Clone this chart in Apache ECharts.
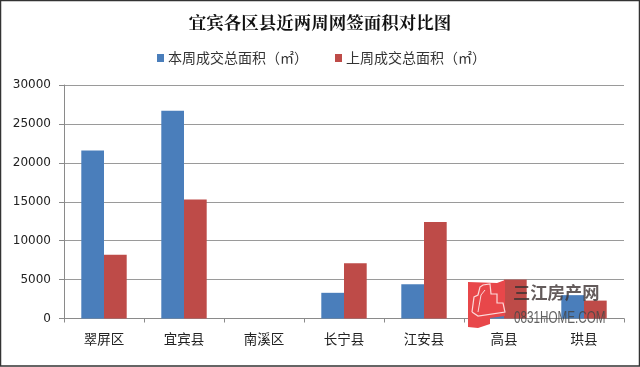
<!DOCTYPE html>
<html><head><meta charset="utf-8">
<style>html,body{margin:0;padding:0;background:#fff}#c{width:640px;height:367px}</style>
<script src="https://cdn.jsdelivr.net/npm/echarts@6/dist/echarts.min.js"></script>
</head><body><div id="c"></div>
<script>
const categories=['翠屏区','宜宾县','南溪区','长宁县','江安县','高县','珙县'];
const thisWeek=[21600,26700,0,3300,4400,3000,3000];
const lastWeek=[8200,15300,0,7100,12400,5000,2300];
const seriesNames=['本周成交总面积（㎡）','上周成交总面积（㎡）'];
const titleText='宜宾各区县近两周网签面积对比图';
const font='"Noto Sans CJK SC"';
const chart=echarts.init(document.getElementById('c'),null,{renderer:'canvas'});
chart.setOption({
 animation:false,backgroundColor:'#fff',
 title:{text:titleText,left:'center',top:9,textStyle:{fontFamily:'"Noto Serif CJK SC","Noto Sans CJK SC"',fontSize:17.5,fontWeight:'bold',color:'#111'}},
 legend:{top:46,left:152,itemWidth:7,itemHeight:8,itemGap:27,icon:'rect',textStyle:{fontFamily:font,fontSize:14,color:'#333',padding:[0,0,0,-1]},data:seriesNames},
 grid:{left:64,top:85,width:560,height:233.5},
 xAxis:{type:'category',data:categories,axisLine:{lineStyle:{color:'#8a8a8a'}},axisTick:{show:true,alignWithLabel:false,length:4,lineStyle:{color:'#8a8a8a'}},axisLabel:{margin:14,fontFamily:font,fontSize:13.5,color:'#222'}},
 yAxis:{type:'value',min:0,max:30000,interval:5000,axisLine:{show:true,lineStyle:{color:'#8a8a8a'}},axisTick:{show:true,length:5,lineStyle:{color:'#8a8a8a'}},splitLine:{lineStyle:{color:'#9a9a9a'}},axisLabel:{margin:13,padding:[4,0,0,0],formatter:v=>String(v),fontFamily:'"DejaVu Sans"',fontSize:12,color:'#222'}},
 series:[
  {name:seriesNames[0],type:'bar',data:thisWeek,barWidth:22.7,barGap:0,itemStyle:{color:'#4a7ebb'}},
  {name:seriesNames[1],type:'bar',data:lastWeek,barWidth:22.7,barGap:0,itemStyle:{color:'#be4b48'}}
 ],
 graphic:[
  {type:'rect',silent:true,z:100,shape:{x:0.5,y:0.5,width:639,height:365.5},style:{fill:'none',stroke:'#333',lineWidth:1.5}},
  {type:'polygon',silent:true,z:100,shape:{points:[[468,282],[497,283],[505,280],[505,316],[490,318],[490,324],[478,328],[468,327]]},style:{fill:'#e8474a'}},
  {type:'polyline',silent:true,z:101,shape:{points:[[472,312],[474,297],[478,295],[480,287],[483,285],[490,284],[491,294],[497,294],[497,303],[503,303],[505,312],[478,316],[472,312]]},style:{fill:'none',stroke:'#fbdada',lineWidth:1.2}},
  {type:'polyline',silent:true,z:101,shape:{points:[[478,312],[481,295],[485,290]]},style:{fill:'none',stroke:'#fbdada',lineWidth:1}},
  {type:'text',silent:true,z:101,style:{x:513,y:284,text:'三江房产网',fontFamily:font,fontSize:17.3,fontWeight:'bold',fill:'rgba(60,50,50,0.8)'}},
  {type:'text',silent:true,z:101,x:514,y:311,scaleX:0.73,style:{text:'0831HOME.COM',fontFamily:'"Liberation Sans"',fontSize:16,fill:'rgba(70,70,70,0.85)'}}
 ]
});
</script></body></html>
